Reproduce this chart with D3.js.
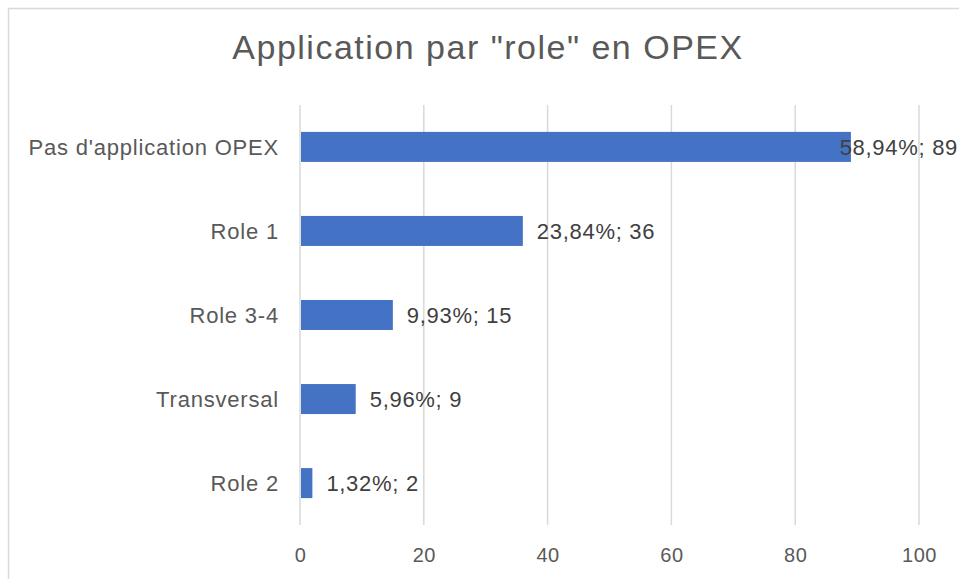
<!DOCTYPE html>
<html lang="fr">
<head>
  <meta charset="UTF-8">
  <script src="https://d3js.org/d3.v7.min.js"></script>
  <title>Application par role en OPEX</title>
  <style>
    body { margin: 0; background: #fff; }
    text { font-family: "Liberation Sans", Arial, sans-serif; }
  </style>
</head>
<body>
  <script>
    const categories = ["Pas d'application OPEX", "Role 1", "Role 3-4", "Transversal", "Role 2"]
    const counts = [89, 36, 15, 9, 2]
    const percents = ["58,94%", "23,84%", "9,93%", "5,96%", "1,32%"]
    const xTicks = [0, 20, 40, 60, 80, 100]

    const dataset = categories.map((c, i) => ({ name: c, value: counts[i], pct: percents[i] }))

    const dimensions = {
      width: 959,
      height: 579,
      margin: { top: 105, right: 40, bottom: 54, left: 300 }
    }
    dimensions.boundedWidth = dimensions.width - dimensions.margin.left - dimensions.margin.right
    dimensions.boundedHeight = dimensions.height - dimensions.margin.top - dimensions.margin.bottom

    const svg = d3.select("body").append("svg")
        .attr("width", dimensions.width)
        .attr("height", dimensions.height)

    // chart border (runs off the right and bottom edges)
    svg.append("rect")
        .attr("x", 8.5).attr("y", 8.5)
        .attr("width", 960).attr("height", 600)
        .attr("fill", "none")
        .attr("stroke", "#d9d9d9")
        .attr("stroke-width", 1.5)

    svg.append("text")
        .attr("x", 488).attr("y", 59)
        .attr("text-anchor", "middle")
        .attr("fill", "#595959")
        .style("font-size", "34px")
        .style("letter-spacing", "1.5px")
        .text('Application par "role" en OPEX')

    const bounds = svg.append("g")
        .attr("transform", `translate(${dimensions.margin.left}, ${dimensions.margin.top})`)

    const xScale = d3.scaleLinear()
        .domain([0, 100])
        .range([0, 619])
    const yScale = d3.scaleBand()
        .domain(categories)
        .range([0, 420])
        .paddingInner(0.643)
        .paddingOuter(0.32)

    // gridlines
    bounds.selectAll(".grid")
        .data(xTicks)
        .join("line")
        .attr("class", "grid")
        .attr("x1", d => xScale(d)).attr("x2", d => xScale(d))
        .attr("y1", 0).attr("y2", 420)
        .attr("stroke", "#d9d9d9")
        .attr("stroke-width", 1.5)

    const xAxis = bounds.append("g")
        .attr("transform", "translate(0, 420)")
        .call(d3.axisBottom(xScale).tickValues(xTicks).tickSize(0).tickPadding(23))
    xAxis.select(".domain").remove()
    xAxis.selectAll("text")
        .attr("fill", "#595959")
        .style("font-size", "20px")
        .style("letter-spacing", "0.5px")

    const yAxis = bounds.append("g")
        .call(d3.axisLeft(yScale).tickSize(0).tickPadding(21))
    yAxis.select(".domain").remove()
    yAxis.selectAll("text")
        .attr("fill", "#595959")
        .attr("dy", "0.35em")
        .style("font-size", "22px")
        .style("letter-spacing", "0.8px")

    bounds.selectAll(".bar")
        .data(dataset)
        .join("rect")
        .attr("class", "bar")
        .attr("x", xScale(0) + 1)
        .attr("y", d => yScale(d.name))
        .attr("width", d => xScale(d.value) - 1)
        .attr("height", yScale.bandwidth())
        .attr("fill", "#4472c4")

    const labels = bounds.selectAll(".lbl")
        .data(dataset)
        .join("text")
        .attr("class", "lbl")
        .attr("x", d => xScale(d.value) + 14)
        .attr("y", d => yScale(d.name) + yScale.bandwidth() / 2)
        .attr("dy", "0.36em")
        .attr("fill", "#404040")
        .style("font-size", "22px")
        .style("letter-spacing", "0.7px")
        .text(d => `${d.pct}; ${d.value}`)

    // keep labels inside the chart area, as the spreadsheet does
    labels.each(function () {
      const w = this.getComputedTextLength()
      const x = +this.getAttribute("x")
      const maxRight = dimensions.width - dimensions.margin.left - 1
      if (x + w > maxRight) this.setAttribute("x", maxRight - w)
    })
  </script>
</body>
</html>
